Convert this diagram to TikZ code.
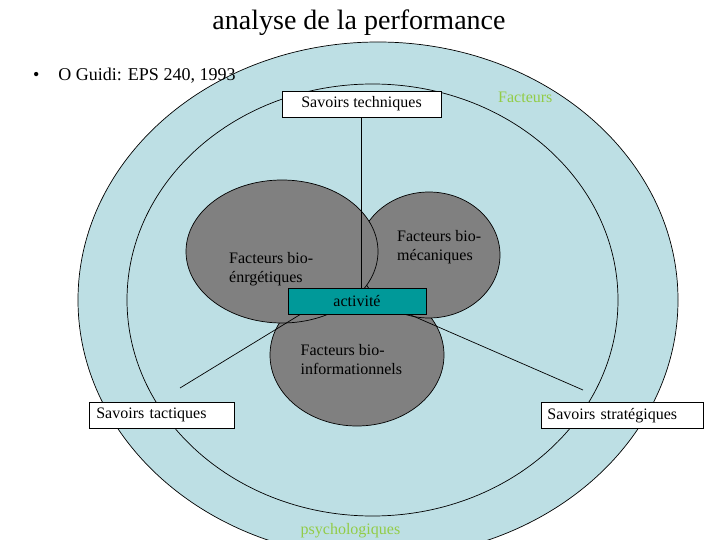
\documentclass[tikz,border=0pt]{standalone}
\usepackage{fontspec}
\setmainfont{Liberation Serif}
\usepackage{tikz}
\usetikzlibrary{shapes.geometric, positioning, calc}
\definecolor{ringblue}{RGB}{189,223,228}
\definecolor{blobgray}{RGB}{128,128,128}
\definecolor{actteal}{RGB}{0,153,153}
\definecolor{factgreen}{RGB}{146,204,70}
\tikzset{
  ringzone/.style={
    ellipse, draw, fill=ringblue, line width=0.7pt, inner sep=0pt
  },
  factorblob/.style={
    ellipse, draw, fill=blobgray, line width=0.7pt, inner sep=0pt
  },
  labelbox/.style={
    draw, fill=white, line width=0.7pt, inner ysep=0pt,
    minimum height=26pt, font=\fontsize{16}{19}\selectfont
  },
  factortext/.style={
    align=left, inner sep=0pt, anchor=north west,
    font=\fontsize{16}{19}\selectfont
  },
  greentext/.style={
    text=factgreen, inner sep=0pt, anchor=base west,
    font=\fontsize{16}{19}\selectfont
  },
  linkline/.style={line width=0.7pt}
}
\begin{document}
\begin{tikzpicture}[x=1pt, y=-1pt]
  \useasboundingbox (0,0) rectangle (720,540);
  \clip (0,0) rectangle (720,540);

  % -- rings --
  \node[ringzone, minimum width=600pt, minimum height=516pt] (outer) at (378,300) {};
  \node[ringzone, minimum width=491pt, minimum height=432pt] (inner) at (372.5,300) {};

  % -- heading --
  \node[anchor=base, inner sep=0pt, font=\fontsize{28}{32}\selectfont]
    (title) at (359,30) {analyse de la performance};
  \node[anchor=base west, inner sep=0pt, font=\fontsize{18}{22}\selectfont]
    (source) at (33,81) {\textbullet\hspace{19pt}O Guidi: EPS 240, 1993};

  % -- factors --
  \node[factorblob, minimum width=174pt, minimum height=142pt] (info)   at (357,355) {};
  \node[factorblob, minimum width=142pt, minimum height=126pt] (mecan)  at (429,255) {};
  \node[factorblob, minimum width=192pt, minimum height=143pt] (energ)  at (282,251.5) {};

  \node[factortext] (energtxt) at (229,251.8) {Facteurs bio-\\énrgétiques};
  \node[factortext] (mecantxt) at (397,230.1) {Facteurs bio-\\mécaniques};
  \node[factortext] (infotxt)  at (300.5,344.1) {Facteurs bio-\\informationnels};

  % -- boxes --
  \node[labelbox, minimum width=159pt] (tech) at (361.5,104) {Savoirs techniques};
  \node[labelbox, fill=actteal, minimum width=138pt] (act) at (357,301.5) {activité};
  \node[labelbox, anchor=north west, inner xsep=7pt, text width=131pt, align=left]
    (tactic) at (89,402) {Savoirs tactiques};
  \node[labelbox, anchor=north west, inner xsep=6pt, text width=150pt, align=left]
    (strat) at (541,402) {Savoirs stratégiques};

  \node[greentext] (factlbl) at (498,103) {Facteurs};
  \node[greentext] (psylbl)  at (300.5,534) {psychologiques};

  % -- connectors --
  \coordinate (tacticend) at (180,388);
  \coordinate (stratend)  at (583,390);
  \draw[linkline] (tech.south) -- (tech.south |- act.north);
  \draw[linkline] ([xshift=12pt]act.south west) -- (tacticend);
  \draw[linkline] ([xshift=-16pt]act.south east) -- (stratend);
\end{tikzpicture}
\end{document}
